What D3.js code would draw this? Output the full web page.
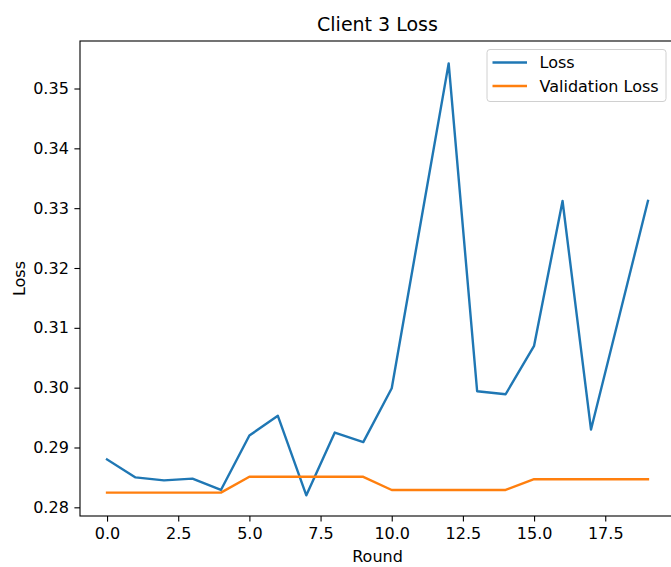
<!DOCTYPE html>
<meta charset="utf-8">
<style>

body {
  margin: 0;
  background: #fff;
}

text {
  font-family: "DejaVu Sans", sans-serif;
  fill: #000;
}

.axis path,
.axis line {
  stroke: #000;
  stroke-width: 1.1px;
}

.line {
  fill: none;
  stroke-width: 2.4px;
  stroke-linejoin: round;
  stroke-linecap: square;
}

</style>
<svg></svg>
<script src="https://d3js.org/d3.v7.min.js"></script>
<script>

var width = 671,
    height = 567;

// values
var rounds = d3.range(20);
var loss = [0.2880, 0.2850, 0.2845, 0.2848, 0.2829, 0.2920, 0.2953, 0.2820, 0.2925, 0.2909,
            0.2999, 0.3271, 0.3542, 0.2994, 0.2989, 0.3070, 0.3312, 0.2930, 0.3121, 0.3312];
var valLoss = [0.28245, 0.28245, 0.28245, 0.28245, 0.28245, 0.2851, 0.2851, 0.2851, 0.2851, 0.2851,
               0.2829, 0.2829, 0.2829, 0.2829, 0.2829, 0.2847, 0.2847, 0.2847, 0.2847, 0.2847];
var xTicks = [0, 2.5, 5, 7.5, 10, 12.5, 15, 17.5];
var yTicks = [0.28, 0.29, 0.30, 0.31, 0.32, 0.33, 0.34, 0.35];
var seriesNames = ["Loss", "Validation Loss"];
var colors = ["#1f77b4", "#ff7f0e"];

var margin = {top: 41, right: -4, bottom: 51, left: 80};

var svg = d3.select("svg")
    .attr("width", width)
    .attr("height", height);

var x = d3.scaleLinear()
    .domain([-0.95, 19.95])
    .range([margin.left, width - margin.right]);

var y = d3.scaleLinear()
    .domain([0.27855, 0.35794])
    .range([height - margin.bottom, margin.top]);

// frame (right spine falls outside the window)
svg.append("rect")
    .attr("x", x.range()[0])
    .attr("y", margin.top)
    .attr("width", x.range()[1] - x.range()[0])
    .attr("height", y.range()[0] - margin.top)
    .attr("fill", "none")
    .attr("stroke", "#000")
    .attr("stroke-width", 1.1);

svg.append("g")
    .attr("class", "axis")
    .attr("transform", "translate(0," + y.range()[0] + ")")
    .call(d3.axisBottom(x).tickValues(xTicks).tickFormat(d3.format(".1f")).tickSize(5.6).tickPadding(6.5).tickSizeOuter(0))
    .call(function(g) { g.select(".domain").remove(); })
    .selectAll("text").style("font-size", "16px").style("font-family", "DejaVu Sans");

svg.append("g")
    .attr("class", "axis")
    .attr("transform", "translate(" + margin.left + ",0)")
    .call(d3.axisLeft(y).tickValues(yTicks).tickFormat(d3.format(".2f")).tickSize(5.6).tickPadding(5.6).tickSizeOuter(0))
    .call(function(g) { g.select(".domain").remove(); })
    .selectAll("text").style("font-size", "16px").style("font-family", "DejaVu Sans");

var line = d3.line()
    .x(function(d, i) { return x(rounds[i]); })
    .y(function(d) { return y(d); });

[loss, valLoss].forEach(function(series, k) {
  svg.append("path")
      .datum(series)
      .attr("class", "line")
      .attr("stroke", colors[k])
      .attr("d", line);
});

// title and axis labels
svg.append("text")
    .attr("x", (x.range()[0] + x.range()[1]) / 2)
    .attr("y", 31)
    .attr("text-anchor", "middle")
    .style("font-size", "19px")
    .text("Client 3 Loss");

svg.append("text")
    .attr("x", (x.range()[0] + x.range()[1]) / 2)
    .attr("y", 562)
    .attr("text-anchor", "middle")
    .style("font-size", "16px")
    .text("Round");

svg.append("text")
    .attr("transform", "translate(25," + ((y.range()[0] + y.range()[1]) / 2) + ") rotate(-90)")
    .attr("text-anchor", "middle")
    .style("font-size", "16px")
    .text("Loss");

// legend
var legend = svg.append("g")
    .attr("transform", "translate(487,49.5)");

legend.append("rect")
    .attr("width", 179)
    .attr("height", 52)
    .attr("rx", 3)
    .attr("fill", "#fff")
    .attr("fill-opacity", 0.8)
    .attr("stroke", "#d0d0d0")
    .attr("stroke-width", 1);

seriesNames.forEach(function(name, k) {
  var ly = 13 + k * 23.5;
  legend.append("line")
      .attr("x1", 5.5).attr("x2", 40)
      .attr("y1", ly).attr("y2", ly)
      .attr("stroke", colors[k])
      .attr("stroke-width", 2.4);
  legend.append("text")
      .attr("x", 52.5)
      .attr("y", ly + 5.8)
      .style("font-size", "16px")
      .text(name);
});

</script>
